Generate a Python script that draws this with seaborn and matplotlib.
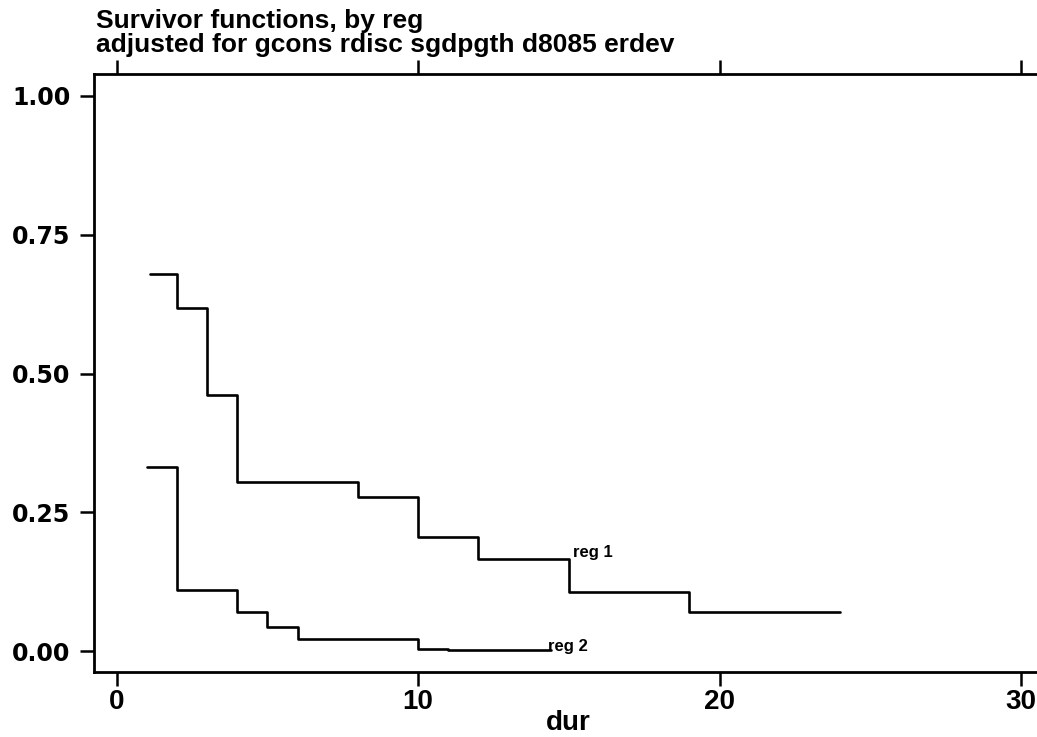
import matplotlib
matplotlib.use("Agg")
import matplotlib.pyplot as plt
import seaborn as sns
import pandas as pd

# Adjusted survivor function estimates by region (step values; last time closes the final step)
reg1_time = [1.12, 2, 3, 4, 8, 10, 12, 15, 19, 24]
reg1_surv = [0.679, 0.619, 0.461, 0.304, 0.277, 0.206, 0.166, 0.107, 0.071, 0.071]
reg2_time = [1.0, 2, 4, 5, 6, 10, 11, 14.4]
reg2_surv = [0.332, 0.110, 0.071, 0.043, 0.023, 0.005, 0.002, 0.002]

x_ticks = [0, 10, 20, 30]
y_ticks = [0.00, 0.25, 0.50, 0.75, 1.00]
y_tick_labels = ["0.00", "0.25", "0.50", "0.75", "1.00"]

title_lines = ["Survivor functions, by reg",
               "adjusted for gcons rdisc sgdpgth d8085 erdev"]

df = pd.concat([
    pd.DataFrame({"dur": reg1_time, "surv": reg1_surv, "reg": "reg 1"}),
    pd.DataFrame({"dur": reg2_time, "surv": reg2_surv, "reg": "reg 2"}),
], ignore_index=True)

sns.set_theme(style="ticks")
plt.rcParams["font.family"] = ["Liberation Sans", "DejaVu Sans"]
plt.rcParams["text.color"] = "black"
plt.rcParams["axes.labelcolor"] = "black"
plt.rcParams["xtick.color"] = "black"
plt.rcParams["ytick.color"] = "black"

narrow = ["Liberation Sans Narrow", "Liberation Sans"]

fig = plt.figure(figsize=(10.37, 7.37), dpi=100)
ax = fig.add_axes([94 / 1037, 65 / 737, (1042 - 94) / 1037, (672 - 74) / 737])

sns.lineplot(data=df, x="dur", y="surv", hue="reg", palette=["black", "black"],
             estimator=None, sort=False, drawstyle="steps-post", linewidth=1.9,
             legend=False, ax=ax)

ax.set_xlim(-0.754, 30.7)
ax.set_ylim(-0.0373, 1.0396)

ax.set_yticks(y_ticks)
ax.set_yticklabels(y_tick_labels, fontsize=17, fontweight="bold", family="DejaVu Sans")
ax.set_xticks(x_ticks)
ax.set_xticklabels([str(t) for t in x_ticks], fontsize=20, fontweight="bold", family=narrow)

ax.tick_params(axis="both", direction="out", length=10, width=1.8, colors="black")
ax.tick_params(axis="y", pad=7)
ax.tick_params(axis="x", pad=2, top=True)

for side in ["left", "bottom", "top"]:
    ax.spines[side].set_linewidth(2.0)
    ax.spines[side].set_color("black")
ax.spines["right"].set_visible(False)

ax.set_xlabel("dur", fontsize=20, fontweight="bold", family=narrow, labelpad=-3)
ax.set_ylabel("")

# Curve labels
ax.text(15.15, 0.178, "reg 1", fontsize=12, fontweight="bold", ha="left", va="center")
ax.text(14.3, 0.008, "reg 2", fontsize=12, fontweight="bold", ha="left", va="center")

# Two-line title above the plot region
fig.text(96 / 1037, 1 - 21 / 737, title_lines[0], fontsize=19, fontweight="bold",
         family=narrow, ha="left", va="center")
fig.text(96 / 1037, 1 - 45 / 737, title_lines[1], fontsize=19, fontweight="bold",
         family=narrow, ha="left", va="center")

fig.savefig("out.png", dpi=100, facecolor="white")
